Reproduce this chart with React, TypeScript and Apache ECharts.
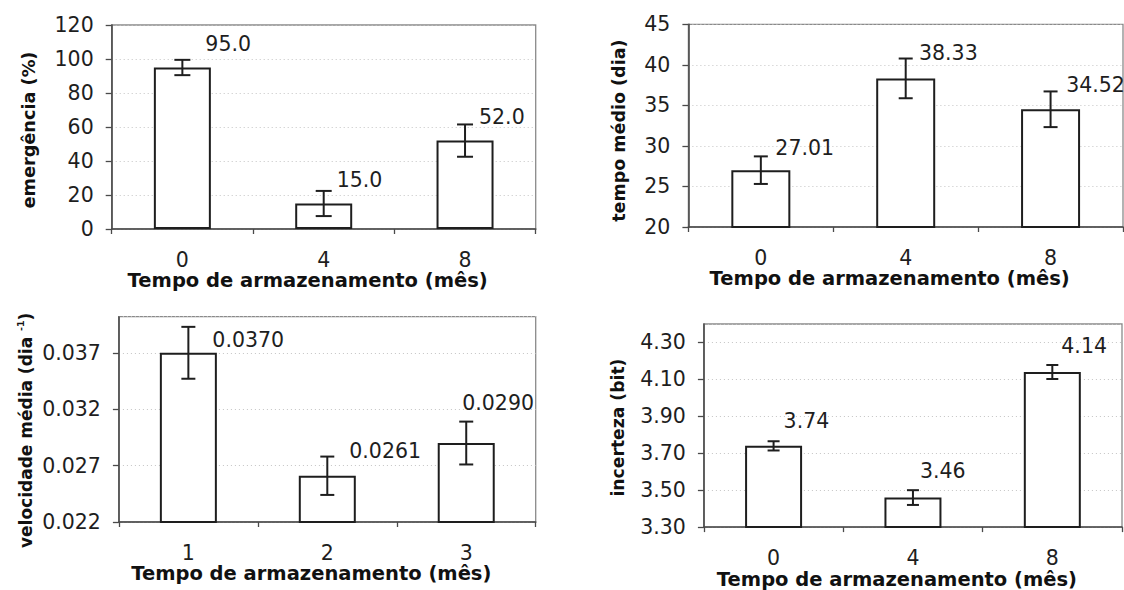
import React, { useEffect, useRef } from "react";
import * as echarts from "echarts";

// ---------- data ----------
const MONTHS_A = ["0", "4", "8"];
const MONTHS_B = ["1", "2", "3"];

const EMERGENCIA = [95.0, 15.0, 52.0];
const EMERGENCIA_ERR = [4.5, 7.4, 9.5];

const TEMPO_MEDIO = [27.01, 38.33, 34.52];
const TEMPO_MEDIO_ERR = [1.7, 2.45, 2.2];

const VELOCIDADE = [0.037, 0.0261, 0.029];
const VELOCIDADE_ERR = [0.0023, 0.0017, 0.0019];

const INCERTEZA = [3.74, 3.46, 4.14];
const INCERTEZA_ERR = [0.025, 0.04, 0.038];

// axis ranges [min, max, interval]
const EMERGENCIA_AXIS = [0, 120, 20];
const TEMPO_AXIS = [20, 45, 5];
const VELOC_AXIS = [0.022, 0.0402, 0.005];
const INCERT_AXIS = [3.3, 4.4, 0.2];

const X_TITLE = "Tempo de armazenamento (mês)";

// ---------- layout / style ----------
const FONT = "DejaVu Sans";
const INK = "#1e1e1e";
const NUM_SIZE = 20.5;

type Panel = {
  cats: string[];
  vals: number[];
  errs: number[];
  axis: number[];
  decimals: number;
  tickDecimals: number;
  showMax: boolean;
  yName: string;
  yNameSize: number;
  grid: { left: number; top: number; width: number; height: number };
  barWidth: number;
  cap: number;
  nameGap: number;
  namePad: number;
  offsets: number[][];
  rich?: boolean;
};

const PANELS: Panel[] = [
  {
    cats: MONTHS_A, vals: EMERGENCIA, errs: EMERGENCIA_ERR, axis: EMERGENCIA_AXIS,
    decimals: 1, tickDecimals: 0, showMax: true, yName: "emergência (%)", yNameSize: 17.7,
    grid: { left: 111.7, top: 25, width: 424, height: 204 },
    barWidth: 57, cap: 16, nameGap: 74, namePad: 6,
    offsets: [[23, -16], [13, -11], [14, -7]],
  },
  {
    cats: MONTHS_A, vals: TEMPO_MEDIO, errs: TEMPO_MEDIO_ERR, axis: TEMPO_AXIS,
    decimals: 2, tickDecimals: 0, showMax: true, yName: "tempo médio (dia)", yNameSize: 17.5,
    grid: { left: 688.4, top: 24.3, width: 434.6, height: 202.7 },
    barWidth: 59, cap: 14, nameGap: 60, namePad: 10,
    offsets: [[14.5, -8], [13.3, -6], [15.6, -6]],
  },
  {
    cats: MONTHS_B, vals: VELOCIDADE, errs: VELOCIDADE_ERR, axis: VELOC_AXIS,
    decimals: 4, tickDecimals: 3, showMax: false,
    yName: "{a|velocidade média (dia }{s|-1}{a|)}", yNameSize: 17,
    grid: { left: 118.9, top: 316.7, width: 416.8, height: 205.3 },
    barWidth: 57, cap: 14, nameGap: 83, namePad: 22,
    offsets: [[24, 13], [22, -6], [-4, -19]], rich: true,
  },
  {
    cats: MONTHS_A, vals: INCERTEZA, errs: INCERTEZA_ERR, axis: INCERT_AXIS,
    decimals: 2, tickDecimals: 2, showMax: false, yName: "incerteza (bit)", yNameSize: 17.2,
    grid: { left: 703.9, top: 324, width: 418.1, height: 204 },
    barWidth: 57, cap: 12, nameGap: 77, namePad: 4,
    offsets: [[10, -20], [7, -19], [9, -19]],
  },
];

function buildOption() {
  const grid: any[] = [];
  const xAxis: any[] = [];
  const yAxis: any[] = [];
  const series: any[] = [];

  PANELS.forEach((p, k) => {
    grid.push({
      ...p.grid,
      show: true,
      borderColor: "#8a8a8a",
      borderWidth: 1.3,
      backgroundColor: "transparent",
      containLabel: false,
    });
    xAxis.push({
      type: "category",
      gridIndex: k,
      data: p.cats,
      boundaryGap: true,
      axisLine: { show: true, lineStyle: { color: "#4a4a4a", width: 1.6 } },
      axisTick: { show: true, length: 5, inside: false, lineStyle: { color: "#4a4a4a", width: 1.3 } },
      axisLabel: { color: INK, fontFamily: FONT, fontSize: NUM_SIZE, margin: 20 },
      name: X_TITLE,
      nameLocation: "middle",
      nameGap: 41,
      nameTextStyle: {
        color: "#111",
        fontFamily: FONT,
        fontWeight: "bold",
        fontSize: 19.5,
        padding: [0, 32, 0, 0],
      },
      splitLine: { show: false },
    });
    const [mn, mx, iv] = p.axis;
    const nameTextStyle: any = {
      color: "#111",
      fontFamily: FONT,
      fontWeight: "bold",
      fontSize: p.yNameSize,
      padding: [0, p.namePad, 0, 0],
    };
    if (p.rich) {
      nameTextStyle.rich = {
        a: { fontFamily: FONT, fontWeight: "bold", fontSize: p.yNameSize, color: "#111" },
        s: { fontFamily: FONT, fontWeight: "bold", fontSize: 9.5, color: "#111", verticalAlign: "top", lineHeight: 20 },
      };
    }
    yAxis.push({
      type: "value",
      gridIndex: k,
      min: mn,
      max: mx,
      interval: iv,
      axisLine: { show: true, lineStyle: { color: "#4a4a4a", width: 1.6 } },
      axisTick: { show: true, length: 6, lineStyle: { color: "#4a4a4a", width: 1.3 } },
      axisLabel: {
        color: INK,
        fontFamily: FONT,
        fontSize: NUM_SIZE,
        margin: 18,
        showMaxLabel: p.showMax,
        formatter: (v: number) => v.toFixed(p.tickDecimals),
      },
      splitLine: { show: true, lineStyle: { color: "#c4c4c4", width: 1, type: [1, 3] } },
      name: p.yName,
      nameLocation: "middle",
      nameGap: p.nameGap,
      nameRotate: 90,
      nameTextStyle,
    });
    series.push({
      type: "bar",
      xAxisIndex: k,
      yAxisIndex: k,
      data: p.vals,
      barWidth: p.barWidth,
      itemStyle: { color: "#ffffff", borderColor: INK, borderWidth: 2 },
      silent: true,
      z: 2,
    });
    series.push({
      type: "custom",
      xAxisIndex: k,
      yAxisIndex: k,
      clip: false,
      silent: true,
      z: 5,
      data: p.vals.map((v, i) => [i, v, p.errs[i]]),
      encode: { x: 0, y: 1 },
      renderItem: (params: any, api: any) => {
        const i = api.value(0);
        const v = api.value(1);
        const e = api.value(2);
        const top = api.coord([i, v + e]);
        const bot = api.coord([i, v - e]);
        const x = top[0];
        const cw = p.cap / 2;
        const [dx, dy] = p.offsets[params.dataIndex];
        const ls = { stroke: INK, lineWidth: 2 };
        return {
          type: "group",
          children: [
            { type: "line", shape: { x1: x, y1: top[1], x2: x, y2: bot[1] }, style: ls },
            { type: "line", shape: { x1: x - cw, y1: top[1], x2: x + cw, y2: top[1] }, style: ls },
            { type: "line", shape: { x1: x - cw, y1: bot[1], x2: x + cw, y2: bot[1] }, style: ls },
            {
              type: "text",
              x: x + dx,
              y: top[1] + dy,
              style: {
                text: p.vals[params.dataIndex].toFixed(p.decimals),
                fill: INK,
                fontFamily: FONT,
                fontSize: NUM_SIZE,
                align: "left",
                verticalAlign: "middle",
              },
            },
          ],
        };
      },
    });
  });

  return {
    animation: false,
    backgroundColor: "#ffffff",
    grid,
    xAxis,
    yAxis,
    series,
  };
}

export default function App() {
  const ref = useRef<HTMLDivElement>(null);
  useEffect(() => {
    if (!ref.current) return;
    const chart = echarts.init(ref.current, undefined, { renderer: "svg" });
    chart.setOption(buildOption() as any);
    return () => chart.dispose();
  }, []);
  return (
    <div
      ref={ref}
      style={{ position: "fixed", left: 0, top: 0, width: 1124, height: 590, background: "#fff" }}
    />
  );
}
